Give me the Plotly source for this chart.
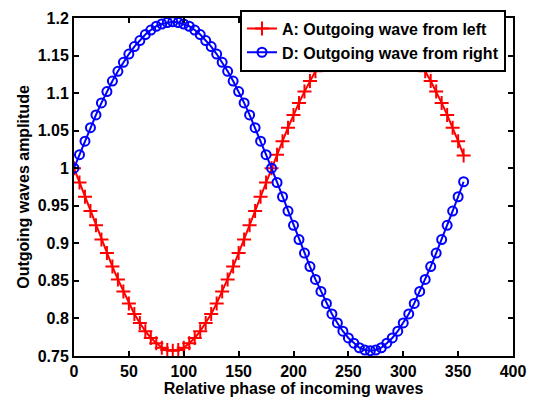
import plotly.graph_objects as go

phase = [0, 5, 10, 15, 20, 25, 30, 35, 40, 45, 50, 55, 60, 65, 70, 75, 80, 85,
         90, 95, 100, 105, 110, 115, 120, 125, 130, 135, 140, 145, 150, 155, 160, 165, 170, 175,
         180, 185, 190, 195, 200, 205, 210, 215, 220, 225, 230, 235, 240, 245, 250, 255, 260, 265,
         270, 275, 280, 285, 290, 295, 300, 305, 310, 315, 320, 325, 330, 335, 340, 345, 350, 355]

wave_A = [1.000, 0.981, 0.962, 0.943, 0.924, 0.905, 0.887, 0.869, 0.852, 0.836, 0.820, 0.806,
          0.794, 0.783, 0.774, 0.767, 0.761, 0.758, 0.757, 0.758, 0.761, 0.767, 0.774, 0.783,
          0.794, 0.806, 0.820, 0.836, 0.852, 0.869, 0.887, 0.905, 0.924, 0.943, 0.962, 0.981,
          1.000, 1.018, 1.036, 1.054, 1.071, 1.087, 1.102, 1.116, 1.129, 1.141, 1.152, 1.162,
          1.170, 1.178, 1.184, 1.189, 1.193, 1.197, 1.199, 1.197, 1.193, 1.189, 1.184, 1.178,
          1.170, 1.162, 1.152, 1.141, 1.129, 1.116, 1.102, 1.087, 1.071, 1.054, 1.036, 1.017]

wave_D = [1.000, 1.018, 1.036, 1.054, 1.071, 1.087, 1.102, 1.116, 1.129, 1.141, 1.152, 1.162,
          1.170, 1.178, 1.184, 1.189, 1.192, 1.194, 1.195, 1.194, 1.192, 1.189, 1.184, 1.178,
          1.170, 1.162, 1.152, 1.141, 1.129, 1.116, 1.102, 1.087, 1.071, 1.054, 1.036, 1.018,
          1.000, 0.981, 0.962, 0.943, 0.924, 0.905, 0.887, 0.869, 0.852, 0.836, 0.820, 0.806,
          0.794, 0.783, 0.774, 0.767, 0.761, 0.758, 0.757, 0.758, 0.761, 0.767, 0.774, 0.783,
          0.794, 0.806, 0.820, 0.836, 0.852, 0.869, 0.887, 0.905, 0.924, 0.943, 0.962, 0.982]

x_ticks = [0, 50, 100, 150, 200, 250, 300, 350, 400]
x_tick_labels = ["0", "50", "100", "150", "200", "250", "300", "350", "400"]
y_ticks = [0.75, 0.8, 0.85, 0.9, 0.95, 1.0, 1.05, 1.1, 1.15, 1.2]
y_tick_labels = ["0.75", "0.8", "0.85", "0.9", "0.95", "1", "1.05", "1.1", "1.15", "1.2"]

FONT = "Arial, Liberation Sans, sans-serif"
FS = 16


def b(s):
    return "<b>" + s + "</b>"


fig = go.Figure()
fig.add_trace(go.Scatter(
    x=phase, y=wave_A, mode="lines+markers",
    name=b("A: Outgoing wave from left"),
    line=dict(color="#ff0000", width=2),
    marker=dict(symbol="cross-thin-open", size=10, color="#ff0000",
                line=dict(color="#ff0000", width=2)),
))
fig.add_trace(go.Scatter(
    x=phase, y=wave_D, mode="lines+markers",
    name=b("D: Outgoing wave from right"),
    line=dict(color="#0000ff", width=2),
    marker=dict(symbol="circle-open", size=9, color="#0000ff",
                line=dict(color="#0000ff", width=2)),
))

tick_font = dict(family=FONT, size=FS, color="black", weight=700)

axis_common = dict(
    showline=True, linecolor="black", linewidth=2, mirror="ticks",
    ticks="inside", ticklen=5, tickwidth=2, tickcolor="black",
    showgrid=False, zeroline=False,
    tickfont=tick_font,
)

fig.update_layout(
    width=536, height=405,
    margin=dict(l=74, r=20, t=10, b=49),
    paper_bgcolor="white", plot_bgcolor="white",
    font=dict(family=FONT, color="black"),
    xaxis=dict(range=[0, 400], tickvals=x_ticks, ticktext=[b(t) for t in x_tick_labels],
               title=dict(text=b("Relative phase of incoming waves"), standoff=2,
                          font=tick_font),
               **axis_common),
    yaxis=dict(range=[0.75, 1.2], tickvals=y_ticks, ticktext=[b(t) for t in y_tick_labels],
               title=dict(text=b("Outgoing waves amplitude"), standoff=4,
                          font=tick_font),
               **axis_common),
    legend=dict(x=0.984, y=1.025, xanchor="right", yanchor="top",
                bgcolor="white", bordercolor="black", borderwidth=2,
                font=tick_font, tracegroupgap=0),
    showlegend=True,
)

fig.write_html("out.html")
